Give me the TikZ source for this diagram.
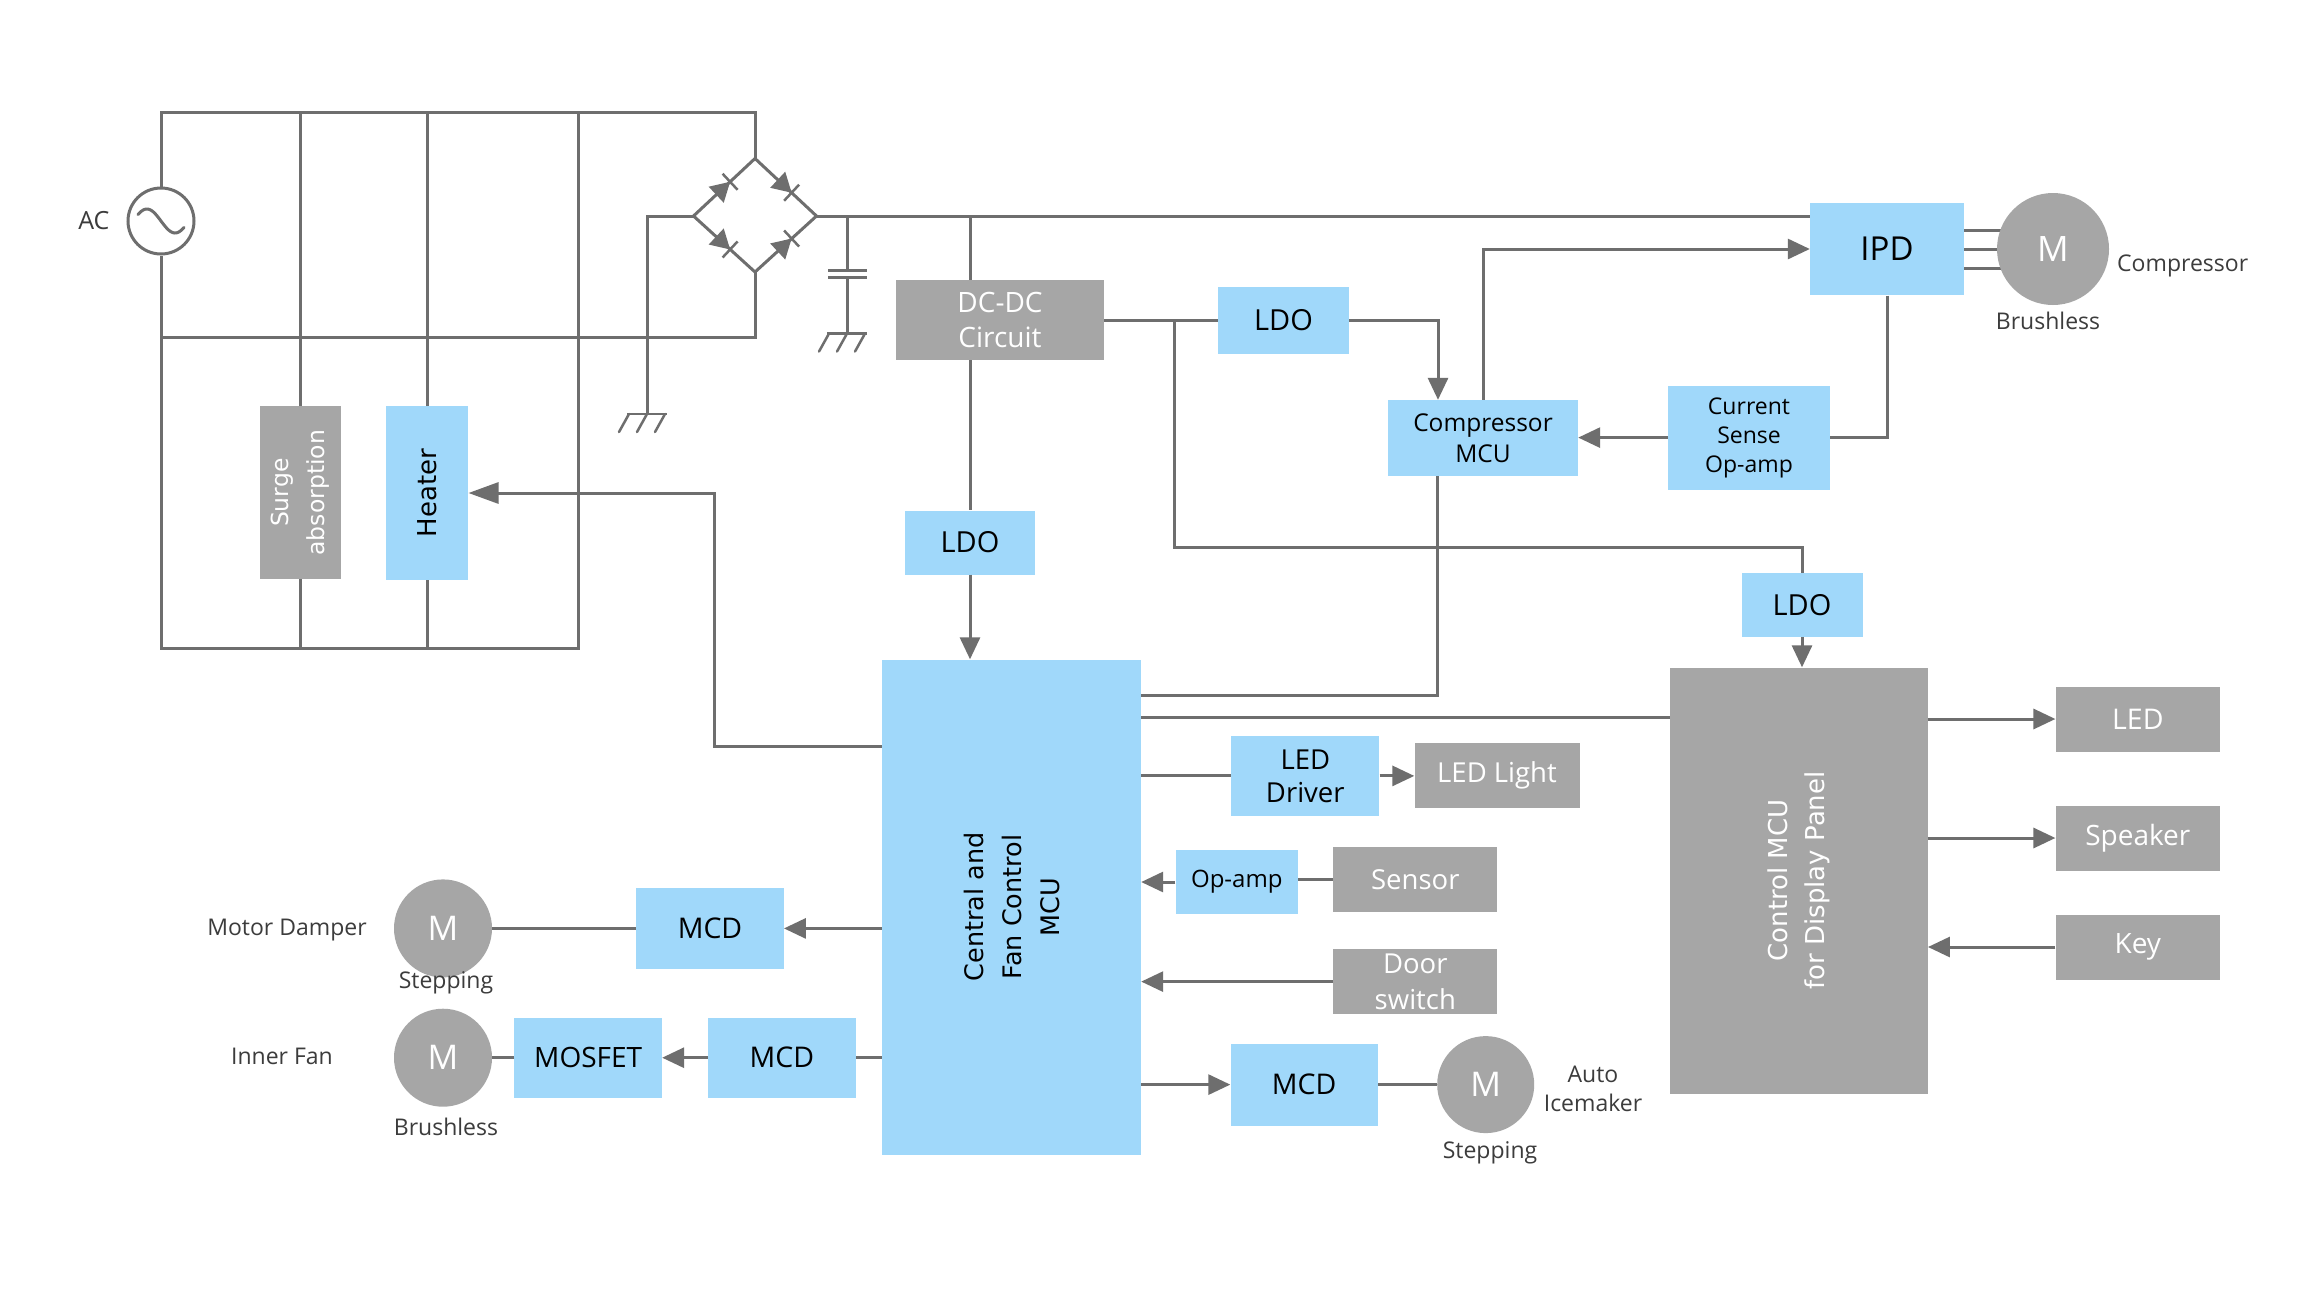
\documentclass[tikz,border=0pt]{standalone}
\usepackage{fontspec}
\setmainfont{Open Sans}
\newfontfamily\rotfont{DejaVu Sans}
\usetikzlibrary{arrows.meta,calc,backgrounds}
\definecolor{linec}{HTML}{6E6E6E}
\definecolor{boxblue}{HTML}{A0D8FA}
\definecolor{boxgray}{HTML}{A6A6A6}
\definecolor{labelc}{HTML}{3C3C3C}
\newcommand\fsz[2]{\fontsize{#1}{#2}\selectfont}
\begin{document}
\begin{tikzpicture}[x=1pt,y=-1pt,
  wire/.style={draw=linec, line width=3pt},
  arr/.style={wire, -{Triangle[length=22pt,width=20pt]}},
  bbox/.style={fill=boxblue, inner sep=0pt, align=center, text=black},
  gbox/.style={fill=boxgray, inner sep=0pt, align=center, text=white},
  motor/.style={circle, fill=boxgray, inner sep=0pt, text=white, font=\fsz{34}{40}},
  lbl/.style={text=labelc, inner sep=0pt, font=\fsz{23}{29}, align=center},
  gnd/.pic={
    \draw[wire, line width=2.5pt] (-20,0) -- (20,0);
    \foreach \k in {-18,0,18} \draw[wire, line width=2.5pt, line cap=round] (\k,0) -- ++(-10,18);
  }
]
\useasboundingbox (0,0) rectangle (2304,1296);
\begin{scope}[on background layer]
  \fill[white] (0,0) rectangle (2304,1296);
\end{scope}

% ---------- AC section ----------
\node[circle, draw=linec, line width=3pt, fill=white, minimum size=66pt, inner sep=0pt] (ac) at (161,221) {};
\draw[wire, line cap=round] plot[smooth, domain=-23:23, samples=41] ({161+\x},{221+12*sin(\x*6.4)});
\node[lbl, font=\fsz{25}{30}] (aclbl) at (93.8,221) {AC};

\coordinate (bT) at (755,158.5);
\coordinate (bB) at (755,272);
\coordinate (bL) at (693.5,216);
\coordinate (bR) at (816.5,216);

\node[gbox, minimum width=81pt, minimum height=173pt] (surge) at (300,492.7) {};
\node[rotate=90, text=white, font=\rotfont\fsz{23.5}{36}, align=center] at (surge) {Surge\\absorption};
\node[bbox, minimum width=82pt, minimum height=174pt] (heater) at (427.3,493) {};
\node[rotate=90, font=\rotfont\fsz{26}{32}] at (heater) {Heater};

\draw[wire] (ac.north) -- (161,112.5) -| (bT);
\draw[wire] (ac.south) -- (161,648.3) -- (578,648.3) -- (578,112.5);
\draw[wire] (161,337.6) -| (bB);
\draw[wire] (300,112.5) -- (surge.north);
\draw[wire] (surge.south) -- (300,648.3);
\draw[wire] (427.3,112.5) -- (heater.north);
\draw[wire] (heater.south) -- (427.3,648.3);

% bridge
\draw[wire, line join=round] (bL) -- (bT) -- (bR) -- (bB) -- cycle;
\foreach \a/\b/\ang in {bL/bT/43, bT/bR/-43, bL/bB/-43, bB/bR/43} {
  \path ($(\a)!0.5!(\b)$) coordinate (dm);
  \begin{scope}[shift={(dm)}, rotate=\ang]
    \fill[linec] (8,0) -- (-11,11) -- (-11,-11) -- cycle;
    \draw[wire, line width=2.5pt] (8,-11) -- (8,11);
  \end{scope}
}
\draw[wire] (bL) -- (647,216) -- (647,414);
\pic at (647,414) {gnd};

% capacitor
\draw[wire] (847,216) -- (847,270.7);
\draw[wire] (828,270.7) -- (866.5,270.7);
\draw[wire] (828,277.5) -- (866.5,277.5);
\draw[wire] (847,277.5) -- (847,333.5);
\pic at (847,333.5) {gnd};

% ---------- power / compressor ----------
\node[gbox, minimum width=208pt, minimum height=80pt, font=\fsz{28}{35}] (dcdc) at (1000,320) {DC-DC\\Circuit};
\node[bbox, minimum width=131pt, minimum height=67pt, font=\fsz{29}{35}] (ldoA) at (1283.5,320) {LDO};
\node[bbox, minimum width=129.5pt, minimum height=64pt, font=\fsz{29}{35}] (ldoB) at (970,542.5) {LDO};
\node[bbox, minimum width=190pt, minimum height=76pt, font=\fsz{24.5}{31.5}] (cmcu) at (1483,438) {Compressor\\MCU};
\node[bbox, minimum width=162.5pt, minimum height=104pt, font=\fsz{23}{29}] (cs) at (1749,437.6) {Current\\Sense\\Op-amp};
\node[bbox, minimum width=154pt, minimum height=92.6pt, font=\fsz{33}{40}] (ipd) at (1887,249) {IPD};
\node[bbox, minimum width=121pt, minimum height=63.4pt, font=\fsz{29}{35}] (ldoC) at (1802,605) {LDO};
\node[motor, minimum size=112pt, font=\fsz{35}{40}] (mcomp) at (2053,249) {M};
\node[lbl, anchor=west] (complbl) at (2117,266) {Compressor};
\node[lbl] (brush1) at (2048,321) {Brushless};

\begin{scope}[on background layer]
  \draw[wire] ($(ipd.east)+(0,-19)$) -- ($(mcomp.center)+(0,-19)$);
  \draw[wire] (ipd.east) -- (mcomp.center);
  \draw[wire] ($(ipd.east)+(0,19.5)$) -- ($(mcomp.center)+(0,19.5)$);
\end{scope}

% ---------- main blocks ----------
\node[bbox, minimum width=259pt, minimum height=495pt] (central) at (1011.5,907) {};
\node[rotate=90, font=\rotfont\fsz{25.5}{38}, align=center] at (central) {Central and\\Fan Control\\MCU};
\node[gbox, minimum width=257.5pt, minimum height=426pt] (ctrl) at (1799,880.5) {};
\node[rotate=90, text=white, font=\rotfont\fsz{26}{37}, align=center] at (ctrl) {Control MCU\\for Display Panel};

\node[gbox, minimum width=164.4pt, minimum height=65pt, font=\fsz{28.5}{34}] (led) at (2137.8,719) {LED};
\node[gbox, minimum width=164.4pt, minimum height=65pt, font=\fsz{28}{34}] (spk) at (2137.8,838) {Speaker};
\node[gbox, minimum width=164.4pt, minimum height=65pt, font=\fsz{28}{34}] (key) at (2137.8,947) {Key};

\node[bbox, minimum width=148pt, minimum height=80.3pt, font=\fsz{27.5}{33}] (ledd) at (1305.3,775.9) {LED\\Driver};
\node[gbox, minimum width=165pt, minimum height=65pt, font=\fsz{27.5}{33}] (ledl) at (1497,775.4) {LED Light};
\node[bbox, minimum width=122.5pt, minimum height=63.2pt, font=\fsz{24}{30}] (opamp) at (1236.8,882) {Op-amp};
\node[gbox, minimum width=164.2pt, minimum height=65.7pt, font=\fsz{27.5}{33}] (sensor) at (1415.3,879.6) {Sensor};
\node[gbox, minimum width=164.2pt, minimum height=65.4pt, font=\fsz{27.5}{36}] (door) at (1415.3,981.6) {Door\\switch};
\node[bbox, minimum width=147.4pt, minimum height=82pt, font=\fsz{28.5}{34}] (mcd3) at (1304.2,1084.6) {MCD};
\node[motor, minimum size=97pt] (mice) at (1485.7,1084.6) {M};
\node[lbl] (autolbl) at (1593,1089) {Auto\\Icemaker};
\node[lbl] (step2) at (1490,1153) {Stepping};

\node[bbox, minimum width=147.5pt, minimum height=80.4pt, font=\fsz{28.5}{34}] (mcd1) at (710,928.4) {MCD};
\node[bbox, minimum width=147.5pt, minimum height=80.4pt, font=\fsz{28.5}{34}] (mcd2) at (781.9,1057.7) {MCD};
\node[bbox, minimum width=147.5pt, minimum height=80.4pt, font=\fsz{28}{34}] (mosfet) at (588.2,1057.7) {MOSFET};
\node[motor, minimum size=98pt] (mdamp) at (443,928.4) {M};
\node[motor, minimum size=98pt] (mfan) at (443,1057.7) {M};
\node[lbl] (dlbl) at (287,930) {Motor Damper};
\node[lbl] (step1) at (446,983) {Stepping};
\node[lbl] (fanlbl) at (282,1056) {Inner Fan};
\node[lbl] (brush2) at (446,1127) {Brushless};

% ---------- connectors ----------
\draw[wire] (bR) -- (bR -| ipd.west);
\draw[wire] (bR -| ldoB) -- (dcdc.north -| ldoB);
\draw[wire] (dcdc.south -| ldoB) -- (ldoB.north);
\draw[arr] (ldoB.south) -- (ldoB.south |- central.north);
\draw[wire] (dcdc.east) -- (ldoA.west);
\draw[arr] (ldoA.east) -| ($(cmcu.north)+(-45,0)$);
\draw[wire] (1174,320) |- ($(ldoC.north)+(0,-25.4)$) -- (ldoC.north);
\draw[arr] (ldoC.south) -- (ldoC.south |- ctrl.north);
\draw[arr] (cmcu.north) |- (ipd.west);
\draw[wire] (ipd.south) |- (cs.east);
\draw[arr] (cs.west) -- (cs.west -| cmcu.east);
\coordinate (cm1) at ($(central.north east)+(0,36)$);
\draw[wire] ($(cmcu.south)+(-46,0)$) |- (cm1);
\coordinate (cm2) at ($(central.north east)+(0,58)$);
\draw[wire] (cm2) -- (cm2 -| ctrl.west);
\draw[wire] (ledd.west -| central.east) -- (ledd.west);
\draw[arr] (ledd.east) -- (ledd.east -| ledl.west);
\draw[arr] (opamp.west) -- (opamp.west -| central.east);
\draw[wire] (sensor.west) -- (sensor.west -| opamp.east);
\draw[arr] (door.west) -- (door.west -| central.east);
\draw[arr] (mcd3.west -| central.east) -- (mcd3.west);
\draw[wire] (mcd3.east) -- (mice.west);
\draw[arr] (led.west -| ctrl.east) -- (led.west);
\draw[arr] (spk.west -| ctrl.east) -- (spk.west);
\draw[arr] (key.west) -- (key.west -| ctrl.east);
\coordinate (hw) at ($(central.north west)+(0,87)$);
\draw[wire, -{Triangle[length=30pt,width=21pt]}] (hw) -| ($(heater.east)+(246,0)$) -- (heater.east);
\draw[arr] (mcd1.east -| central.west) -- (mcd1.east);
\draw[wire] (mcd1.west) -- (mdamp.east);
\draw[wire] (mcd2.east -| central.west) -- (mcd2.east);
\draw[arr] (mcd2.west) -- (mosfet.east);
\draw[wire] (mosfet.west) -- (mfan.east);
\end{tikzpicture}
\end{document}
